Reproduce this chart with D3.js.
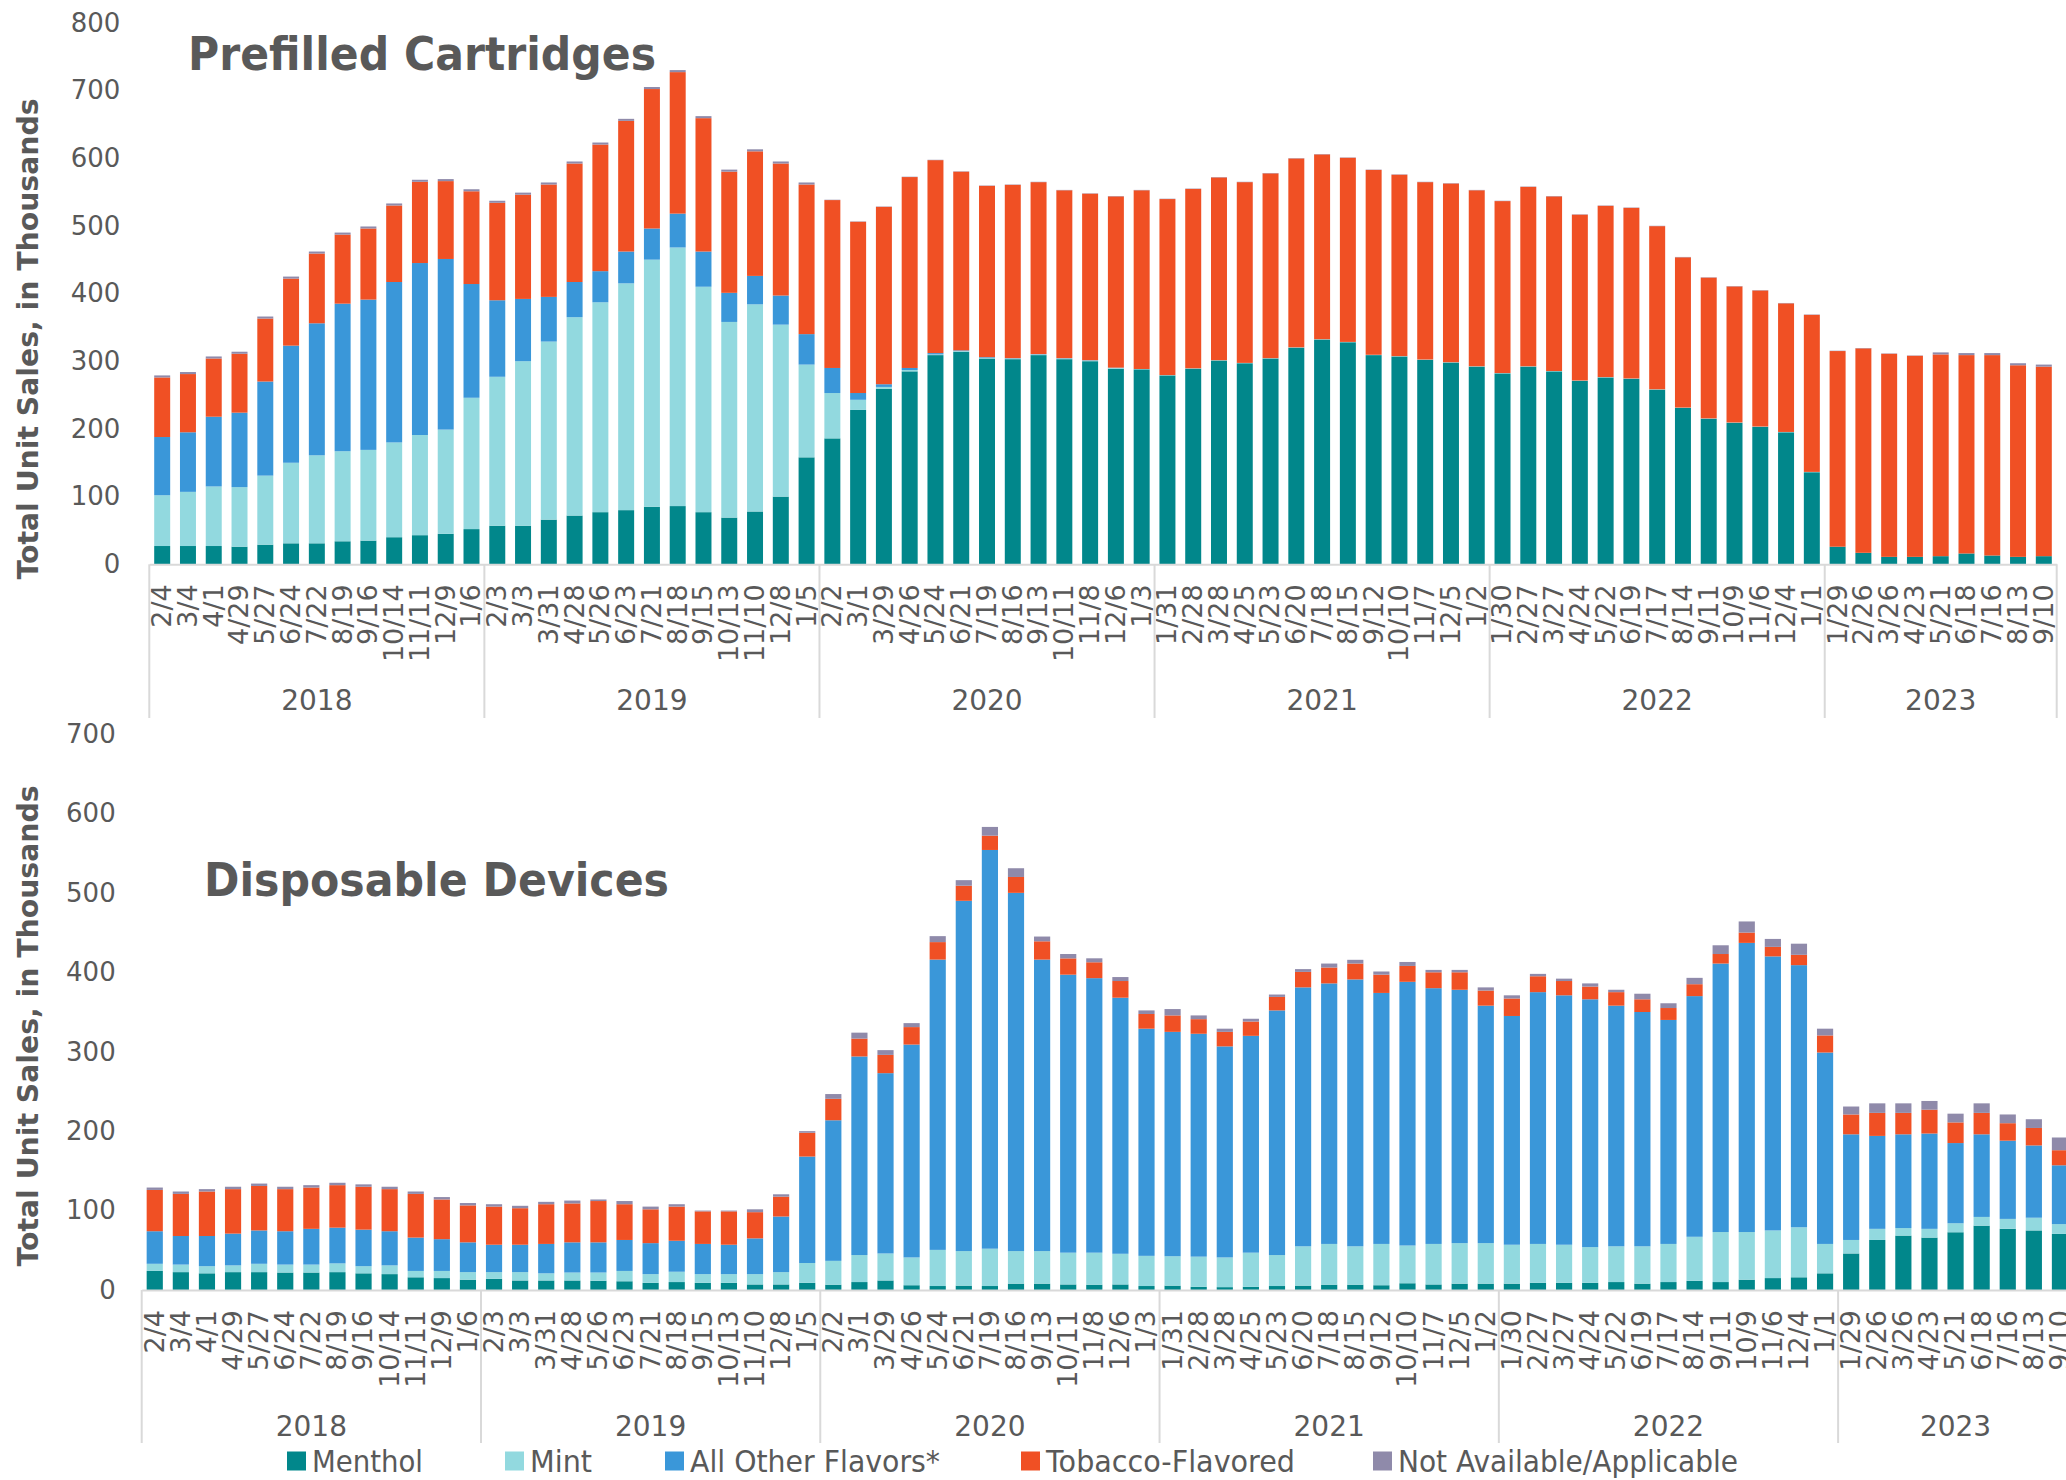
<!DOCTYPE html>
<meta charset="utf-8">
<title>Prefilled Cartridges and Disposable Devices</title>
<style>
  body { margin: 0; background: #fff; }
  svg { display: block; font-family: "DejaVu Sans", sans-serif; }
  text { fill: #595959; }
</style>
<script src="https://cdn.jsdelivr.net/npm/d3@7"></script>
<svg width="2066" height="1480"></svg>
<script>
// 4-week periods, labelled by end date
var periods = [
  "2/4","3/4","4/1","4/29","5/27","6/24","7/22","8/19","9/16","10/14","11/11","12/9","1/6",
  "2/3","3/3","3/31","4/28","5/26","6/23","7/21","8/18","9/15","10/13","11/10","12/8","1/5",
  "2/2","3/1","3/29","4/26","5/24","6/21","7/19","8/16","9/13","10/11","11/8","12/6","1/3",
  "1/31","2/28","3/28","4/25","5/23","6/20","7/18","8/15","9/12","10/10","11/7","12/5","1/2",
  "1/30","2/27","3/27","4/24","5/22","6/19","7/17","8/14","9/11","10/9","11/6","12/4","1/1",
  "1/29","2/26","3/26","4/23","5/21","6/18","7/16","8/13","9/10"
];
var yearLabels = ["2018", "2019", "2020", "2021", "2022", "2023"];
var yearCounts = [13, 13, 13, 13, 13, 9];

var flavors = ["Menthol", "Mint", "All Other Flavors*", "Tobacco-Flavored", "Not Available/Applicable"];
var colors = ["#01878b", "#92d9df", "#3a97d9", "#f05024", "#8f8aaa"];

// prefilled cartridges, thousands of units
var cartMenthol = [27,27,27,26,29,31,31,34,35,40,43,45,
  52,57,57,66,72,77,80,85,86,77,69,78,100,
  158,186,228,259,285,309,314,304,303,309,303,300,289,
  288,279,289,301,297,304,320,332,328,309,307,302,298,
  292,282,292,285,271,276,274,258,231,215,209,203,195,
  136,26,17,11,11,12,16,13,11,12];
var cartMint = [75,80,88,88,102,119,130,133,134,140,148,154,
  194,220,243,263,293,310,335,365,382,333,289,306,254,
  137,67,15,3,2,1,1,1,1,1,1,1,1,
  0.5,0.5,0.5,0.5,0.5,0.5,0.5,0.5,0.5,0.5,0.5,0.5,0.5,
  0.5,0.5,0.5,0.5,0.5,0.5,0.5,0.5,0.5,0.5,0.5,0.5,0.5,
  0.5,0,0,0,0,0,0,0,0,0];
var cartOther = [86,88,103,110,139,173,195,218,222,237,254,252,
  168,113,92,66,52,46,47,46,50,52,43,42,43,
  45,37,10,4,3,2,1,1,0.5,0.5,0.5,0.5,0.5,
  0,0,0,0,0,0,0,0,0,0,0,0,0,
  0,0,0,0,0,0,0,0,0,0,0,0,0,
  0,0,0,0,0,0,0,0,0,0];
var cartTobacco = [88,86,86,87,93,99,103,102,105,113,120,115,
  137,144,154,166,175,187,193,206,209,197,179,184,195,
  221,248,253,262,282,285,264,253,256,254,248,246,253,
  264,260,265,270,267,273,279,273,272,273,268,262,264,
  260,254,265,258,245,253,252,241,222,208,201,201,190,
  232,289,302,300,297,298,293,296,283,280];
var cartNA = [3,3,3,3,3,3,3,3,3,3,3,3,
  3,3,3,3,3,3,3,3,3,3,3,3,3,
  3,0.5,0.5,0.5,0.5,0.5,0.5,0.5,0.5,0.5,0.5,0.5,0.5,
  0.5,0.5,0.5,0.5,0.5,0.5,0.5,0.5,0.5,0.5,0.5,0.5,0.5,
  0.5,0.5,0.5,0.5,0.5,0.5,0.5,0.5,0.5,0.5,0.5,0.5,0.5,
  0.5,0.5,0.5,0.5,0.5,3,3,3,3,3];

// disposable devices, thousands of units
var dispMenthol = [24,22.5,21,22.5,22.5,22,22,22.5,21,20,16,15,
  13,14,12,12,12,11.6,11,9,10,9,9,7,7,
  9,6.7,10,12,6,5,5.5,5,8,8,7,6.7,7,
  5,5.5,4,3.6,4,5,5.5,6.7,6.7,6,8.5,7,8,
  8,8,9,9,9,10,8,10,11.5,10,13,15,16,
  21,46,63,68.5,66,72.7,81,77,75,70.6];
var dispMint = [9,9.5,9,8.5,10.5,10,10,11,9,11,8,9,
  9.5,8.5,10.5,9,10,10.4,13,11,13,11,11,13,15.5,
  25,30,34,34,35,45.5,43.5,47,41,41,40,40.3,38.6,
  38,37,38,37.4,43,39,49.5,51.3,48.3,52,47.5,51,51,
  51,49,49,48,45,45,47,48,55.5,63,60,60,63,
  37,17,14,9.5,11,11.3,11,12.5,16,12.4];
var dispOther = [41,36,38,40,42,42,45,45,46,43,42,40,
  37.5,34.5,34.5,37,38,38,39,39,39,38,37,45,70,
  134,177,250,227,268,365.5,441,502,451,367,350,345.6,322.4,
  286,282.5,280.6,265.7,273,308,326,328,336,316,332,322,319,
  299,288,317,314,312,303,295,282,303,338,364,345,330,
  241,133,117,118,120,101,104,98.5,91,74];
var dispTobacco = [52,53,56,56,56,53,52,53.5,54,53,55,50,
  46.5,48,46,50,49,52,45,42.6,43,41,42,33,25,
  30,27,22.5,23,22,22,19,18,20,23,20.5,20,21,
  18.5,20.7,18.4,18.3,18,17,19.5,20,20,23,20,20,22,
  19,22,20,18,16,17,16,15,15,12,13,12,13,
  21.5,25,29,27,30,26,27,22,22,19];
var dispNA = [3,3,3,3,3,3,3,3,3,3,3,3,
  3,3,3,3,3.6,2,4,3.4,3,1,1,3.6,3,
  2,6,7.5,6,5,7.5,7,11,11,6,5.5,5,5,
  4.5,8,4.7,4,3.5,3,3.5,5,4.7,4,5,3,3,
  4,4,3,3,4,3,7,6,8,11,14,10,14,
  8.5,10,12,12,11,11,12,11,11,16];

var svg = d3.select("svg");

function drawPanel(p) {
  var x = d3.scaleBand()
    .domain(d3.range(periods.length))
    .range(p.xRange)
    .paddingInner(0.38)
    .paddingOuter(0.19);
  var y = d3.scaleLinear().domain([0, p.yMax]).range(p.yRange);

  var rows = periods.map(function (d, i) {
    var r = {};
    flavors.forEach(function (f, k) { r[f] = p.series[k][i]; });
    return r;
  });
  var stacked = d3.stack().keys(flavors)(rows);

  var g = svg.append("g");

  g.selectAll("g.layer")
    .data(stacked)
    .join("g")
    .attr("class", "layer")
    .attr("fill", function (d, k) { return colors[k]; })
    .selectAll("rect")
    .data(function (d) { return d; })
    .join("rect")
    .attr("x", function (d, i) { return x(i); })
    .attr("width", x.bandwidth())
    .attr("y", function (d) { return y(d[1]); })
    .attr("height", function (d) { return y(d[0]) - y(d[1]); });

  // y axis, labels only
  var yAxis = g.append("g")
    .attr("transform", "translate(" + p.xRange[0] + ",0)")
    .call(d3.axisLeft(y).tickValues(d3.range(0, p.yMax + 1, 100)).tickSize(0).tickPadding(p.yPad));
  yAxis.attr("font-size", 26).attr("font-family", null);
  yAxis.select(".domain").remove();

  // x axis with rotated period labels
  var xAxis = g.append("g")
    .attr("transform", "translate(0," + p.yRange[0] + ")")
    .call(d3.axisBottom(x).tickSize(0).tickSizeOuter(0).tickFormat(function (i) { return periods[i]; }));
  xAxis.attr("font-size", 27).attr("font-family", null);
  xAxis.select(".domain").attr("stroke", "#d9d9d9").attr("stroke-width", 2);
  xAxis.selectAll(".tick text")
    .attr("transform", "rotate(-90)")
    .attr("text-anchor", "end")
    .attr("x", -20)
    .attr("y", 0)
    .attr("dy", "0.33em");

  // year groups
  var start = 0;
  var bounds = [];
  yearCounts.forEach(function (n, k) {
    var x0 = p.xRange[0] + start * x.step();
    var x1 = p.xRange[0] + (start + n) * x.step();
    bounds.push(x0);
    g.append("text")
      .attr("x", (x0 + x1) / 2)
      .attr("y", p.yearY)
      .attr("dy", "0.35em")
      .attr("text-anchor", "middle")
      .attr("font-size", 28)
      .text(yearLabels[k]);
    start += n;
  });
  bounds.push(p.xRange[0] + start * x.step());
  g.selectAll("line.divider")
    .data(bounds)
    .join("line")
    .attr("class", "divider")
    .attr("x1", function (d) { return d; })
    .attr("x2", function (d) { return d; })
    .attr("y1", p.yRange[0])
    .attr("y2", p.divEnd)
    .attr("stroke", "#d9d9d9")
    .attr("stroke-width", 2);

  // titles
  g.append("text")
    .attr("x", p.titleX)
    .attr("y", p.titleY)
    .attr("font-size", 47)
    .attr("font-weight", "bold")
    .attr("textLength", p.titleW)
    .attr("lengthAdjust", "spacingAndGlyphs")
    .text(p.title);

  g.append("text")
    .attr("transform", "translate(28," + p.yTitleY + ") rotate(-90)")
    .attr("text-anchor", "middle")
    .attr("dy", "0.35em")
    .attr("font-size", 29)
    .attr("font-weight", "bold")
    .attr("textLength", 481)
    .attr("lengthAdjust", "spacingAndGlyphs")
    .text("Total Unit Sales, in Thousands");
}

drawPanel({
  series: [cartMenthol, cartMint, cartOther, cartTobacco, cartNA],
  xRange: [149.3, 2056.7],
  yMax: 800,
  yRange: [564.3, 22.7],
  yPad: 29,
  yearY: 700,
  divEnd: 718,
  title: "Prefilled Cartridges",
  titleX: 188, titleY: 69.5, titleW: 468,
  yTitleY: 339
});

drawPanel({
  series: [dispMenthol, dispMint, dispOther, dispTobacco, dispNA],
  xRange: [141.7, 2073],
  yMax: 700,
  yRange: [1290, 734],
  yPad: 26,
  yearY: 1426,
  divEnd: 1443,
  title: "Disposable Devices",
  titleX: 204, titleY: 896, titleW: 465,
  yTitleY: 1026
});

// legend
var legendX = [287, 505, 665, 1021, 1373];
var legendW = [111, 62, 250, 249, 340];
var legend = svg.append("g")
  .selectAll("g")
  .data(flavors)
  .join("g")
  .attr("transform", function (d, k) { return "translate(" + legendX[k] + ",1461)"; });
legend.append("rect")
  .attr("x", 0).attr("y", -9.5)
  .attr("width", 19).attr("height", 19)
  .attr("fill", function (d, k) { return colors[k]; });
legend.append("text")
  .attr("x", 25)
  .attr("dy", "0.35em")
  .attr("font-size", 30)
  .attr("textLength", function (d, k) { return legendW[k]; })
  .attr("lengthAdjust", "spacingAndGlyphs")
  .text(function (d) { return d; });
</script>
